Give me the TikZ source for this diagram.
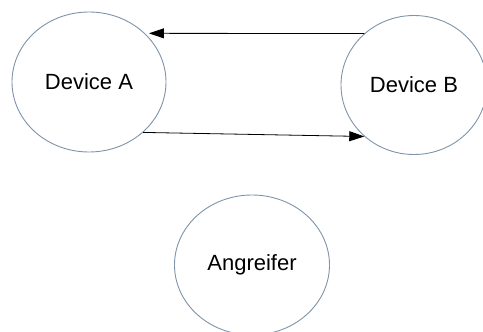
\documentclass[tikz,border=0pt]{standalone}
\usepackage{fontspec}
\setmainfont{Liberation Sans}
\usetikzlibrary{shapes.geometric, arrows.meta}
\definecolor{ringblue}{HTML}{7F93AA}

\begin{document}
\begin{tikzpicture}[x=1pt, y=-1pt, >={Triangle[length=15pt, width=10pt]},
    device/.style={ellipse, draw=ringblue, line width=0.9pt, inner sep=0pt,
        font=\fontsize{22}{26}\selectfont}]
    \useasboundingbox (0,0) rectangle (483,332);

    \node[device, minimum width=154pt, minimum height=140pt] (devA) at (89,82) {Device A};
    \node[device, minimum width=146pt, minimum height=139pt] (devB) at (414,85) {Device B};
    \node[device, minimum width=155pt, minimum height=140pt] (att) at (252,265) {Angreifer};

    \draw[->, line width=0.8pt, shorten >=4pt] (devB.134) -- (devA.41);
    \draw[->, line width=0.8pt] (devA.-43) -- (devB.-134);
\end{tikzpicture}
\end{document}
